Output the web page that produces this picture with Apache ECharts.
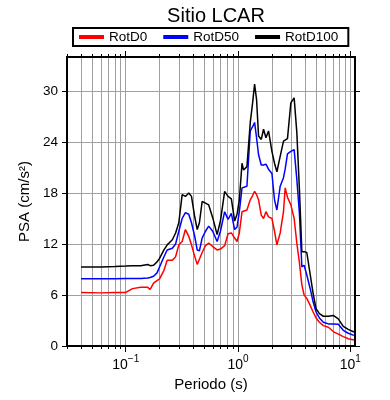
<!DOCTYPE html>
<html><head><meta charset="utf-8">
<script src="https://cdn.jsdelivr.net/npm/echarts@6/dist/echarts.min.js"></script>
<style>html,body{margin:0;padding:0;background:#fff}#c{width:390px;height:400px}</style>
</head><body><div id="c"></div>
<script>
const periods = [0.04,0.06,0.08,0.10,0.115,0.136,0.157,0.165,0.177,0.19,0.20,0.219,0.234,0.26,0.278,0.297,0.318,0.34,0.364,0.385,0.41,0.433,0.453,0.479,0.513,0.548,0.595,0.651,0.697,0.76,0.815,0.872,0.933,0.98,1.027,1.085,1.12,1.20,1.285,1.348,1.404,1.462,1.523,1.61,1.687,1.772,1.868,2.003,2.112,2.218,2.373,2.539,2.628,2.755,2.953,3.159,3.338,3.52,3.70,3.876,4.095,4.38,4.66,4.95,5.30,5.75,6.37,7.05,7.81,8.65,9.58,10.76];
const rotD0 = [6.3,6.25,6.3,6.3,6.75,6.9,6.9,6.65,7.4,7.7,7.9,8.9,10.1,10.1,10.5,11.9,12.3,13.7,12.9,11.9,10.6,9.6,10.2,11.0,11.8,12.1,11.7,11.3,11.4,11.8,13.2,13.3,12.7,12.3,13.3,15.8,15.9,16.0,17.2,17.7,18.2,17.8,17.2,15.4,15.0,15.8,15.2,15.0,13.5,11.9,13.3,15.8,18.6,17.5,16.6,15.0,12.1,9.8,7.2,6.0,5.6,4.8,4.0,3.3,2.8,2.4,2.2,1.7,1.4,1.1,0.85,0.7];
const rotD50 = [7.9,7.9,7.9,7.95,7.95,7.95,8.0,8.05,8.2,8.6,9.3,10.5,11.3,11.5,12.0,13.5,15.0,15.7,15.5,14.5,13.0,11.3,11.2,12.7,13.5,14.1,13.5,12.3,13.5,15.8,14.9,15.6,13.7,14.0,15.8,18.6,18.7,18.8,25.3,25.8,26.3,24.5,22.5,21.3,21.3,21.4,20.8,20.3,17.2,16.0,18.8,19.8,20.8,22.6,22.9,23.1,19.6,15.6,9.3,9.5,8.35,6.8,5.2,4.0,3.3,2.8,2.6,2.6,2.55,1.85,1.5,1.25];
const rotD100 = [9.3,9.3,9.35,9.4,9.45,9.45,9.6,9.45,9.5,9.9,10.3,11.3,11.9,12.5,13.3,14.5,17.8,17.6,18.0,17.6,15.3,13.7,14.5,17.0,16.8,16.6,15.1,13.1,14.7,18.2,17.6,17.3,14.7,15.5,17.2,21.5,20.7,21.1,26.3,28.6,30.8,29.0,24.7,24.3,25.5,24.5,25.3,22.9,21.5,20.5,22.3,24.1,24.3,24.4,28.6,29.2,25.1,18.4,11.1,11.1,11.0,8.5,6.2,4.4,3.8,3.5,3.5,3.6,3.2,2.3,1.95,1.65];
const seriesNames = ['RotD0','RotD50','RotD100'];
const xMinorValues = [0.03,0.04,0.05,0.06,0.07,0.08,0.09,0.1,0.2,0.3,0.4,0.5,0.6,0.7,0.8,0.9,1,2,3,4,5,6,7,8,9,10];
const xMajorValues = [0.1,1,10];
const yTickValues = [0,6,12,18,24,30];

const chart = echarts.init(document.getElementById('c'), null, {renderer:'canvas'});
const pair = arr => periods.map((t,i)=>[t,arr[i]]);
const FONT = 'Liberation Sans, Arial, sans-serif';
const fmtX = v => { const e = Math.round(Math.log10(v)); return '{b|10}{s|' + (e<0 ? '\u2212'+(-e) : e) + '}'; };
const baseX = {type:'log', min:0.03, max:11, logBase:10, axisLine:{onZero:false}};
const opt = {
  animation:false,
  backgroundColor:'#fff',
  textStyle:{fontFamily:FONT},
  title:{text:'Sitio LCAR', left:211, top:1, textAlign:'center', textStyle:{fontFamily:FONT, fontSize:20, fontWeight:'normal', color:'#000'}},
  legend:{left:73, top:28, data:seriesNames, icon:'rect', itemWidth:25, itemHeight:4, itemGap:16,
    padding:[2,10,2,6], borderColor:'#000', borderWidth:2, backgroundColor:'#fff',
    textStyle:{fontFamily:FONT, fontSize:13.5, color:'#000', padding:[0,0,0,0]}},
  grid:{left:67, top:57, right:35, bottom:54, containLabel:false},
  xAxis:[
    Object.assign({}, baseX, {position:'bottom',
      axisLine:{show:true, onZero:false, lineStyle:{color:'#000', width:2}},
      axisTick:{show:true, customValues:xMinorValues, length:3, lineStyle:{color:'#000', width:1}},
      splitLine:{show:true, lineStyle:{color:'#a0a0a0', width:1}},
      axisLabel:{customValues:xMajorValues, margin:8, formatter:fmtX, color:'#000',
        rich:{b:{fontFamily:FONT, fontSize:14, color:'#000', padding:[4,0,0,0]}, s:{fontFamily:FONT, fontSize:10, color:'#000', verticalAlign:'top'}}},
      name:'Periodo (s)', nameLocation:'middle', nameGap:26, nameTextStyle:{fontFamily:FONT, fontSize:15, color:'#000'}}),
    Object.assign({}, baseX, {position:'bottom', axisLine:{show:false, onZero:false},
      axisTick:{show:true, customValues:xMajorValues, length:6, lineStyle:{color:'#000', width:1}},
      splitLine:{show:false}, axisLabel:{show:false}}),
    Object.assign({}, baseX, {position:'top', axisLine:{show:true, onZero:false, lineStyle:{color:'#000', width:2}},
      axisTick:{show:true, customValues:xMinorValues, length:3, lineStyle:{color:'#000', width:1}},
      splitLine:{show:false}, axisLabel:{show:false}}),
    Object.assign({}, baseX, {position:'top', axisLine:{show:false, onZero:false},
      axisTick:{show:true, customValues:xMajorValues, length:6, lineStyle:{color:'#000', width:1}},
      splitLine:{show:false}, axisLabel:{show:false}})
  ],
  yAxis:[
    {type:'value', min:0, max:34, position:'left',
      axisLine:{show:true, onZero:false, lineStyle:{color:'#000', width:2}},
      axisTick:{show:true, customValues:yTickValues, length:5, lineStyle:{color:'#000', width:1}},
      splitLine:{show:true, lineStyle:{color:'#a0a0a0', width:1}},
      axisLabel:{customValues:yTickValues, margin:9, fontFamily:FONT, fontSize:13.5, color:'#000'},
      name:'PSA (cm/s\u00b2)', nameLocation:'middle', nameGap:29, nameTextStyle:{fontFamily:FONT, fontSize:15, color:'#000'}},
    {type:'value', min:0, max:34, position:'right',
      axisLine:{show:true, onZero:false, lineStyle:{color:'#000', width:2}},
      axisTick:{show:true, customValues:yTickValues, length:5, lineStyle:{color:'#000', width:1}},
      splitLine:{show:false}, axisLabel:{show:false}}
  ],
  series:[
    {name:seriesNames[0], type:'line', xAxisIndex:0, yAxisIndex:0, data:pair(rotD0), showSymbol:false, symbol:'none', color:'#ff0000', lineStyle:{color:'#ff0000', width:1.5}},
    {name:seriesNames[1], type:'line', xAxisIndex:0, yAxisIndex:0, data:pair(rotD50), showSymbol:false, symbol:'none', color:'#0000ff', lineStyle:{color:'#0000ff', width:1.5}},
    {name:seriesNames[2], type:'line', xAxisIndex:0, yAxisIndex:0, data:pair(rotD100), showSymbol:false, symbol:'none', color:'#000000', lineStyle:{color:'#000000', width:1.5}}
  ]
};
chart.setOption(opt);
</script></body></html>
